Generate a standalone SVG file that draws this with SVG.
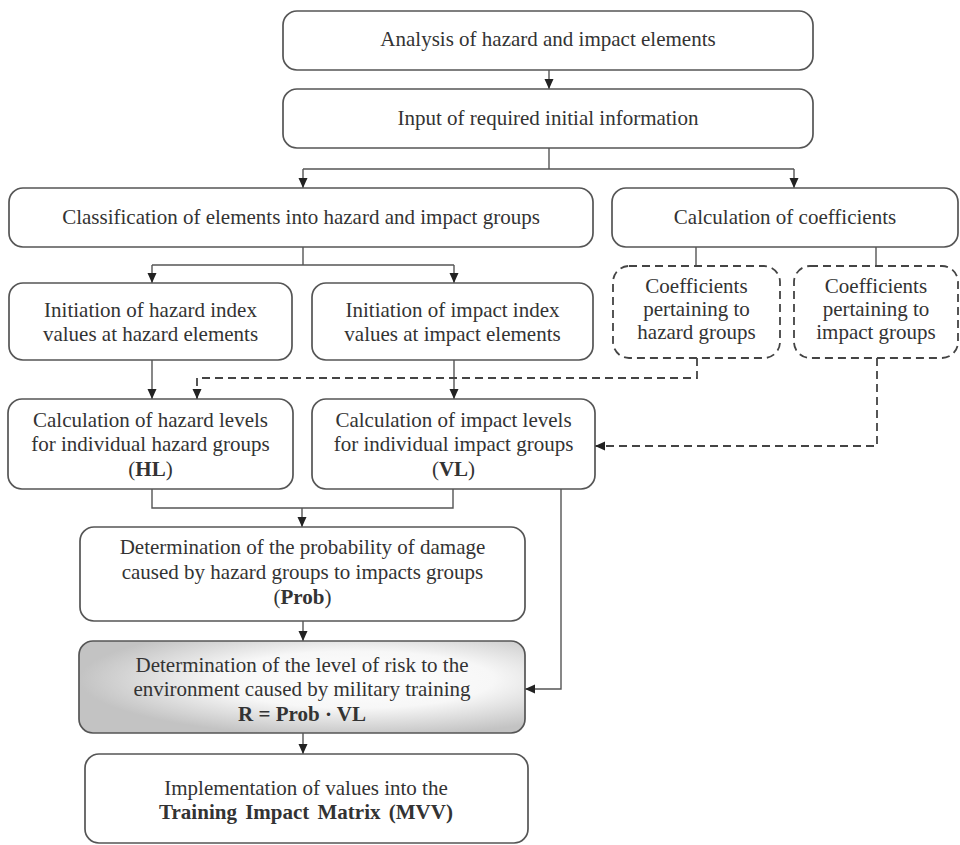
<svg xmlns="http://www.w3.org/2000/svg" width="960" height="845" viewBox="0 0 960 845">
<style>
.box{fill:#fff;stroke:#555;stroke-width:1.7}
.dbox{fill:#fff;stroke:#444;stroke-width:1.8;stroke-dasharray:8 5}
.t{font-family:"Liberation Serif","Times New Roman",serif;font-size:21px;fill:#333;text-anchor:middle}
.b{font-weight:bold}
.c{fill:none;stroke:#555;stroke-width:1.4}
.d{fill:none;stroke:#444;stroke-width:1.8;stroke-dasharray:8 5}
</style>
<defs>
<marker id="ah" markerUnits="userSpaceOnUse" markerWidth="11" markerHeight="10" refX="10" refY="4.5" orient="auto">
<path d="M0,0 L10,4.5 L0,9 Z" fill="#222"/>
</marker>
<radialGradient id="g" cx="0.62" cy="0.42" r="0.62">
<stop offset="0" stop-color="#ffffff"/>
<stop offset="0.5" stop-color="#f7f7f7"/>
<stop offset="1" stop-color="#c3c3c3"/>
</radialGradient>
</defs>
<rect width="960" height="845" fill="#fff"/>
<g id="connectors">
<line class="c" x1="549" y1="70" x2="549" y2="89" marker-end="url(#ah)"/>
<polyline class="c" points="549,148 549,169"/>
<polyline class="c" points="303,169 794,169"/>
<line class="c" x1="303" y1="169" x2="303" y2="188" marker-end="url(#ah)"/>
<line class="c" x1="794" y1="169" x2="794" y2="188" marker-end="url(#ah)"/>
<polyline class="c" points="303,247 303,265"/>
<polyline class="c" points="152,265 454,265"/>
<line class="c" x1="152" y1="265" x2="152" y2="283" marker-end="url(#ah)"/>
<line class="c" x1="454" y1="265" x2="454" y2="283" marker-end="url(#ah)"/>
<line class="c" x1="696" y1="247" x2="696" y2="266"/>
<line class="c" x1="876" y1="247" x2="876" y2="266"/>
<line class="c" x1="152" y1="360" x2="152" y2="399" marker-end="url(#ah)"/>
<line class="c" x1="454" y1="360" x2="454" y2="399" marker-end="url(#ah)"/>
<polyline class="d" points="697,358 697,378 197,378 197,399" marker-end="url(#ah)"/>
<polyline class="d" points="877,358 877,446 595,446" marker-end="url(#ah)"/>
<polyline class="c" points="152,489 152,508 453,508 453,489"/>
<line class="c" x1="302" y1="508" x2="302" y2="527" marker-end="url(#ah)"/>
<polyline class="c" points="561,489 561,689 525,689" marker-end="url(#ah)"/>
<line class="c" x1="303" y1="621" x2="303" y2="641" marker-end="url(#ah)"/>
<line class="c" x1="303" y1="733" x2="303" y2="754" marker-end="url(#ah)"/>
</g>
<g id="n1"><rect class="box" x="283" y="11" width="530" height="59" rx="14"/><text class="t" x="548" y="46">Analysis of hazard and impact elements</text></g>
<g id="n2"><rect class="box" x="283" y="89" width="530" height="59" rx="14"/><text class="t" x="548" y="125">Input of required initial information</text></g>
<g id="n3"><rect class="box" x="9" y="188" width="584" height="59" rx="14"/><text class="t" x="301" y="224">Classification of elements into hazard and impact groups</text></g>
<g id="n4"><rect class="box" x="612" y="188" width="346" height="59" rx="14"/><text class="t" x="785" y="224">Calculation of coefficients</text></g>
<g id="n5"><rect class="box" x="9" y="283" width="283" height="77" rx="14"/><text class="t" x="150.5" y="317">Initiation of hazard index</text><text class="t" x="150.5" y="341">values at hazard elements</text></g>
<g id="n6"><rect class="box" x="312" y="283" width="281" height="77" rx="14"/><text class="t" x="452.5" y="317">Initiation of impact index</text><text class="t" x="452.5" y="341">values at impact elements</text></g>
<g id="n7"><rect class="dbox" x="613" y="266" width="167" height="92" rx="16"/><text class="t" x="696.5" y="293">Coefficients</text><text class="t" x="696.5" y="316">pertaining to</text><text class="t" x="696.5" y="339">hazard groups</text></g>
<g id="n8"><rect class="dbox" x="794" y="266" width="164" height="92" rx="16"/><text class="t" x="876" y="293">Coefficients</text><text class="t" x="876" y="316">pertaining to</text><text class="t" x="876" y="339">impact groups</text></g>
<g id="n9"><rect class="box" x="8" y="399" width="285" height="90" rx="14"/><text class="t" x="150.5" y="427">Calculation of hazard levels</text><text class="t" x="150.5" y="451">for individual hazard groups</text><text class="t" x="150.5" y="476">(<tspan class="b">HL</tspan>)</text></g>
<g id="n10"><rect class="box" x="312" y="399" width="283" height="90" rx="14"/><text class="t" x="453.5" y="427">Calculation of impact levels</text><text class="t" x="453.5" y="451">for individual impact groups</text><text class="t" x="453.5" y="476">(<tspan class="b">VL</tspan>)</text></g>
<g id="n11"><rect class="box" x="80" y="527" width="445" height="94" rx="14"/><text class="t" x="302.5" y="554">Determination of the probability of damage</text><text class="t" x="302.5" y="579">caused by hazard groups to impacts groups</text><text class="t" x="302.5" y="604">(<tspan class="b">Prob</tspan>)</text></g>
<g id="n12"><rect class="box" x="79" y="641" width="446" height="92" rx="14" style="fill:url(#g)"/><text class="t" x="302" y="672">Determination of the level of risk to the</text><text class="t" x="302" y="696">environment caused by military training</text><text class="t b" x="302" y="721">R = Prob · VL</text></g>
<g id="n13"><rect class="box" x="85" y="754" width="443" height="89" rx="14"/><text class="t" x="306" y="795">Implementation of values into the</text><text class="t b" x="306" y="819" word-spacing="3">Training Impact Matrix (MVV)</text></g>
</svg>
